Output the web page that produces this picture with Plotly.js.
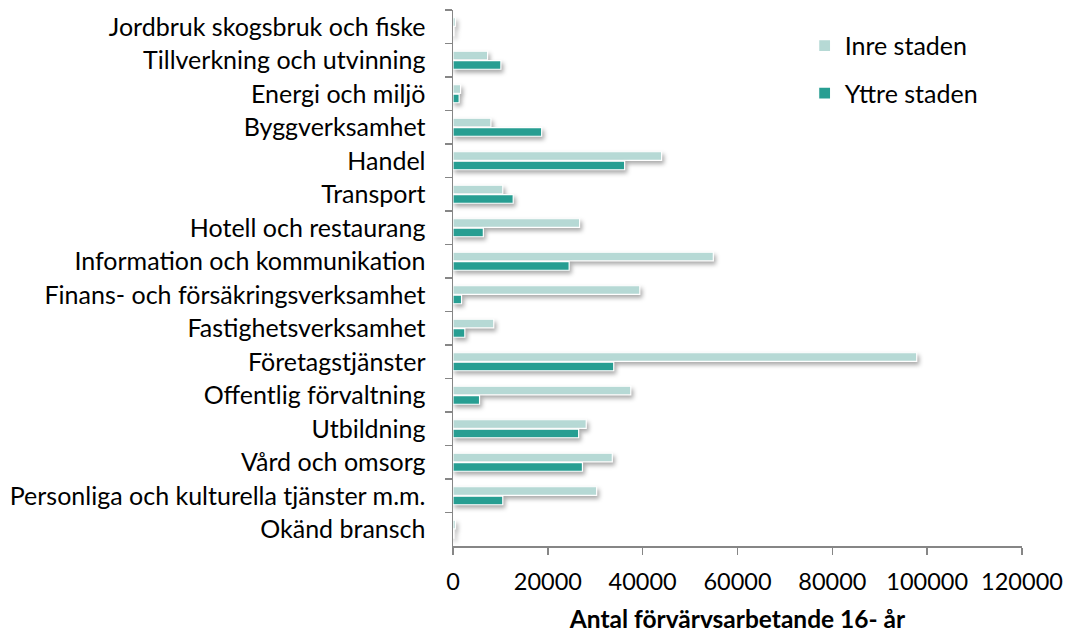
<!DOCTYPE html>
<html>
<head>
<meta charset="utf-8">
<script src="https://cdn.plot.ly/plotly-3.0.1.min.js"></script>
<style>
  html, body { margin: 0; padding: 0; background: #fff; }
  #chart { width: 1067px; height: 633px; }
  .js-plotly-plot .plotly .barlayer .bars path { filter: drop-shadow(2px 3px 2px rgba(0,0,0,0.33)); }
</style>
</head>
<body>
<div id="chart"></div>
<script>
const categories = [
  "Jordbruk skogsbruk och fiske",
  "Tillverkning och utvinning",
  "Energi och miljö",
  "Byggverksamhet",
  "Handel",
  "Transport",
  "Hotell och restaurang",
  "Information och kommunikation",
  "Finans- och försäkringsverksamhet",
  "Fastighetsverksamhet",
  "Företagstjänster",
  "Offentlig förvaltning",
  "Utbildning",
  "Vård och omsorg",
  "Personliga och kulturella tjänster m.m.",
  "Okänd bransch"
];
const inreStaden = [500, 7300, 1600, 8000, 44000, 10500, 26700, 54900, 39400, 8600, 97800, 37500, 28100, 33600, 30300, 500];
const yttreStaden = [200, 10100, 1300, 18700, 36200, 12700, 6400, 24500, 1800, 2500, 33900, 5600, 26500, 27300, 10500, 200];
const xTicks = [0, 20000, 40000, 60000, 80000, 100000, 120000];
const seriesNames = ["Inre staden", "Yttre staden"];
const xTitle = "Antal förvärvsarbetande 16- år";

const font = "Lato, 'Open Sans', sans-serif";

const traces = [
  {
    type: "bar", orientation: "h", name: seriesNames[0], legendgroup: "a",
    y: categories, x: inreStaden,
    marker: { color: "#B6D9D5", line: { color: "#ffffff", width: 1.2 } },
    hoverinfo: "x+y"
  },
  {
    type: "bar", orientation: "h", name: seriesNames[1], legendgroup: "b",
    y: categories, x: yttreStaden,
    marker: { color: "#279E92", line: { color: "#ffffff", width: 1.2 } },
    hoverinfo: "x+y"
  }
];

const layout = {
  width: 1067, height: 633,
  margin: { l: 453, r: 45, t: 10, b: 87 },
  paper_bgcolor: "#ffffff", plot_bgcolor: "#ffffff",
  font: { family: font, color: "#000000", size: 24 },
  barmode: "group",
  bargap: 0.44,
  bargroupgap: 0.08,
  showlegend: true,
  legend: {
    x: 0.618, y: 0.976, xanchor: "left", yanchor: "top",
    font: { family: font, size: 25, color: "#000" },
    tracegroupgap: 12,
    bgcolor: "rgba(0,0,0,0)"
  },
  xaxis: {
    range: [0, 120000],
    tickvals: xTicks,
    ticktext: xTicks.map(String),
    showgrid: false, zeroline: false,
    showline: true, linecolor: "#868686", linewidth: 1.5,
    ticks: "outside", ticklen: 7, tickcolor: "#868686", tickwidth: 1.5,
    ticklabelstandoff: 7,
    tickfont: { family: font, size: 23.5, color: "#000" },
    automargin: false,
    title: { text: "<b>" + xTitle + "</b>", font: { family: font, size: 24.5, color: "#000" }, standoff: 19 }
  },
  yaxis: {
    type: "category",
    autorange: "reversed",
    automargin: false,
    showgrid: false, zeroline: false,
    showline: true, linecolor: "#868686", linewidth: 1.5,
    ticks: "outside", ticklen: 7, tickcolor: "#868686", tickwidth: 1.5,
    tickson: "boundaries",
    ticklabelstandoff: 21,
    tickfont: { family: font, size: 25, color: "#000" }
  }
};

Plotly.newPlot("chart", traces, layout, { displayModeBar: false, staticPlot: true });
</script>
</body>
</html>
